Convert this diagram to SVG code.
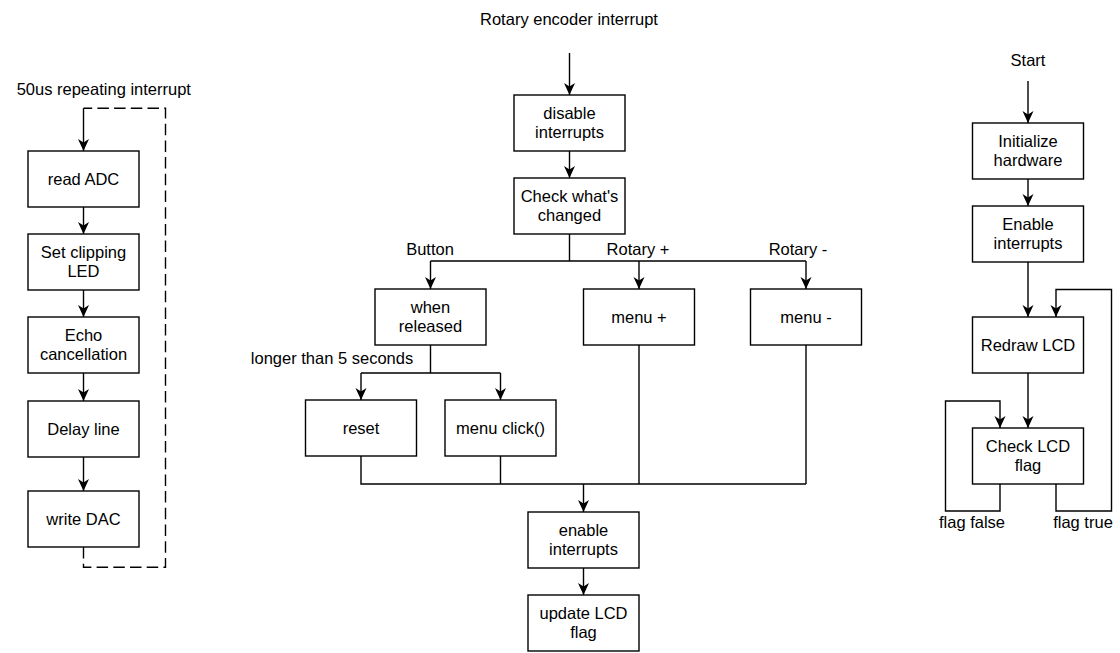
<svg xmlns="http://www.w3.org/2000/svg" width="1120" height="653" viewBox="0 0 1120 653">
<style>
.b{fill:#fff;stroke:#000;stroke-width:1.4}
.c{fill:none;stroke:#000;stroke-width:1.4}
.a{marker-end:url(#arr)}
.d{stroke-dasharray:11.5 5.2}
text{font-family:"Liberation Sans",Arial,Helvetica,sans-serif;font-size:16.5px;fill:#000;text-anchor:middle}
</style>
<defs>
<marker id="arr" markerUnits="userSpaceOnUse" markerWidth="13" markerHeight="12" viewBox="0 0 13 12" refX="12" refY="6" orient="auto">
<path d="M0,0.5 L12,6 L0,11.5 L3.5,6 Z" fill="#000"/>
</marker>
</defs>
<rect width="1120" height="653" fill="#fff"/>
<g id="connectors">
<!-- left -->
<path class="c d" d="M83.5,547 V567.3 H165.5 V108.3 H83.5"/>
<path class="c a" d="M83.5,108.3 V151"/>
<path class="c a" d="M83.5,207 V234"/>
<path class="c a" d="M83.5,290 V317"/>
<path class="c a" d="M83.5,373 V401"/>
<path class="c a" d="M83.5,457 V491"/>
<!-- middle -->
<path class="c a" d="M569.5,53 V95"/>
<path class="c a" d="M569.5,151 V178"/>
<path class="c" d="M569.5,234 V261 M430.5,261 H806"/>
<path class="c a" d="M430.5,261 V289"/>
<path class="c a" d="M639,261 V289"/>
<path class="c a" d="M806,261 V289"/>
<path class="c" d="M430.5,345 V373 M361,373 H500.5"/>
<path class="c a" d="M361,373 V400"/>
<path class="c a" d="M500.5,373 V400"/>
<path class="c" d="M361,456 V484 H806 M500.5,456 V484 M639,345 V484 M806,345 V484"/>
<path class="c a" d="M583.5,484 V512"/>
<path class="c a" d="M583.5,568 V595"/>
<!-- right -->
<path class="c a" d="M1028,81 V123"/>
<path class="c a" d="M1028,179 V206"/>
<path class="c a" d="M1028,262 V317"/>
<path class="c a" d="M1028,373 V428"/>
<path class="c a" d="M1056,484 V511 H1111.5 V289.5 H1056 V317"/>
<path class="c a" d="M1000,484 V511 H945.5 V401 H1000 V428"/>
</g>
<g id="labels">
<text x="103.8" y="95">50us repeating interrupt</text>
<text x="569" y="24.5">Rotary encoder interrupt</text>
<text x="430" y="255">Button</text>
<text x="638" y="255">Rotary +</text>
<text x="798" y="255">Rotary -</text>
<text x="332" y="363.5">longer than 5 seconds</text>
<text x="1028" y="66">Start</text>
<text x="972" y="528">flag false</text>
<text x="1083" y="528">flag true</text>
</g>
<g id="n-readadc"><rect class="b" x="28" y="151" width="111" height="56"/><text x="83.5" y="185">read ADC</text></g>
<g id="n-clip"><rect class="b" x="28" y="234" width="111" height="56"/><text x="83.5" y="257.5">Set clipping</text><text x="83.5" y="276.8">LED</text></g>
<g id="n-echo"><rect class="b" x="28" y="317" width="111" height="56"/><text x="83.5" y="340.5">Echo</text><text x="83.5" y="359.8">cancellation</text></g>
<g id="n-delay"><rect class="b" x="28" y="401" width="111" height="56"/><text x="83.5" y="435">Delay line</text></g>
<g id="n-dac"><rect class="b" x="28" y="491" width="111" height="56"/><text x="83.5" y="525">write DAC</text></g>

<g id="n-disable"><rect class="b" x="514" y="95" width="111" height="56"/><text x="569.5" y="118.5">disable</text><text x="569.5" y="137.8">interrupts</text></g>
<g id="n-check"><rect class="b" x="514" y="178" width="111" height="56"/><text x="569.5" y="201.5">Check what's</text><text x="569.5" y="220.8">changed</text></g>
<g id="n-released"><rect class="b" x="375" y="289" width="111" height="56"/><text x="430.5" y="312.5">when</text><text x="430.5" y="331.8">released</text></g>
<g id="n-menuplus"><rect class="b" x="583.5" y="289" width="111" height="56"/><text x="639" y="323">menu +</text></g>
<g id="n-menuminus"><rect class="b" x="750.5" y="289" width="111" height="56"/><text x="806" y="323">menu -</text></g>
<g id="n-reset"><rect class="b" x="305.5" y="400" width="111" height="56"/><text x="361" y="434">reset</text></g>
<g id="n-click"><rect class="b" x="445" y="400" width="111" height="56"/><text x="500.5" y="434">menu click()</text></g>
<g id="n-enable"><rect class="b" x="528" y="512" width="111" height="56"/><text x="583.5" y="535.5">enable</text><text x="583.5" y="554.8">interrupts</text></g>
<g id="n-update"><rect class="b" x="528" y="595" width="111" height="56"/><text x="583.5" y="618.5">update LCD</text><text x="583.5" y="637.8">flag</text></g>

<g id="n-init"><rect class="b" x="972.5" y="123" width="111" height="56"/><text x="1028" y="146.5">Initialize</text><text x="1028" y="165.8">hardware</text></g>
<g id="n-enint"><rect class="b" x="972.5" y="206" width="111" height="56"/><text x="1028" y="229.5">Enable</text><text x="1028" y="248.8">interrupts</text></g>
<g id="n-redraw"><rect class="b" x="972.5" y="317" width="111" height="56"/><text x="1028" y="351">Redraw LCD</text></g>
<g id="n-checklcd"><rect class="b" x="972.5" y="428" width="111" height="56"/><text x="1028" y="451.5">Check LCD</text><text x="1028" y="470.8">flag</text></g>
</svg>
